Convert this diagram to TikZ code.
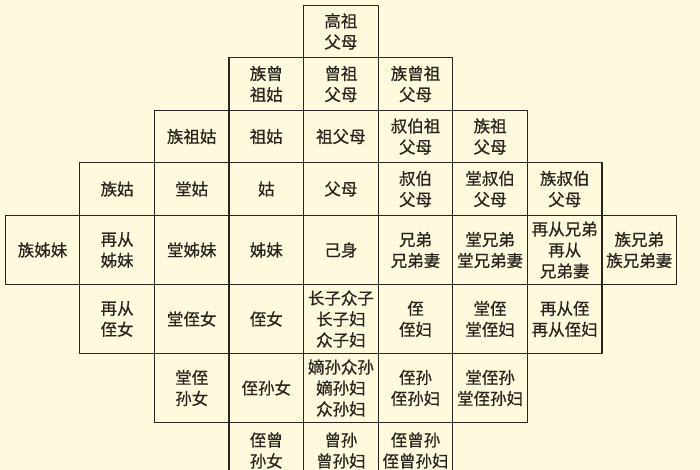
\documentclass[tikz,border=0pt]{standalone}
\usepackage{fontspec}
\newfontfamily\cjk[FakeBold=0.6]{Noto Sans CJK SC}
\definecolor{paper}{RGB}{255,250,221}
\definecolor{ink}{RGB}{40,37,30}
\tikzset{
  cell/.style={draw=ink,line width=1.2pt,minimum width=74.6pt,inner sep=0pt,
    align=center,text=ink,font=\cjk\fontsize{16.5}{21}\selectfont},
  rowlow/.style={cell,minimum height=52.5pt},
  rowhigh/.style={cell,minimum height=69pt}
}
\begin{document}
\begin{tikzpicture}[x=1pt,y=-1pt,line join=round,line cap=round]
			\fill[paper] (0,0) rectangle (700,470);
			\clip (0,0) rectangle (700,470);
			% generation of great-great-grandparents
			\node[rowlow] (A4) at (340.9,31.5) {高祖\\父母};
			% great-grandparents
			\node[rowlow] (B3) at (266.3,84) {族曾\\祖姑};
			\node[rowlow] (B4) at (340.9,84) {曾祖\\父母};
			\node[rowlow] (B5) at (415.5,84) {族曾祖\\父母};
			% grandparents
			\node[rowlow] (C2) at (191.7,136.5) {族祖姑};
			\node[rowlow] (C3) at (266.3,136.5) {祖姑};
			\node[rowlow] (C4) at (340.9,136.5) {祖父母};
			\node[rowlow] (C5) at (415.5,136.5) {叔伯祖\\父母};
			\node[rowlow] (C6) at (490.1,136.5) {族祖\\父母};
			% parents
			\node[rowlow] (D1) at (117.1,189) {族姑};
			\node[rowlow] (D2) at (191.7,189) {堂姑};
			\node[rowlow] (D3) at (266.3,189) {姑};
			\node[rowlow] (D4) at (340.9,189) {父母};
			\node[rowlow] (D5) at (415.5,189) {叔伯\\父母};
			\node[rowlow] (D6) at (490.1,189) {堂叔伯\\父母};
			\node[rowlow] (D7) at (564.7,189) {族叔伯\\父母};
			% own generation
			\node[rowhigh] (E0) at (42.5,250) {族姊妹};
			\node[rowhigh] (E1) at (117.1,250) {再从\\姊妹};
			\node[rowhigh] (E2) at (191.7,250) {堂姊妹};
			\node[rowhigh] (E3) at (266.3,250) {姊妹};
			\node[rowhigh] (E4) at (340.9,250) {己身};
			\node[rowhigh] (E5) at (415.5,250) {兄弟\\兄弟妻};
			\node[rowhigh] (E6) at (490.1,250) {堂兄弟\\堂兄弟妻};
			\node[rowhigh] (E7) at (564.7,250) {再从兄弟\\再从\\兄弟妻};
			\node[rowhigh] (E8) at (639.3,250) {族兄弟\\族兄弟妻};
			% children
			\node[rowhigh] (F1) at (117.1,319) {再从\\侄女};
			\node[rowhigh] (F2) at (191.7,319) {堂侄女};
			\node[rowhigh] (F3) at (266.3,319) {侄女};
			\node[rowhigh] (F4) at (340.9,319) {长子众子\\长子妇\\众子妇};
			\node[rowhigh] (F5) at (415.5,319) {侄\\侄妇};
			\node[rowhigh] (F6) at (490.1,319) {堂侄\\堂侄妇};
			\node[rowhigh] (F7) at (564.7,319) {再从侄\\再从侄妇};
			% grandchildren
			\node[rowhigh] (G2) at (191.7,388) {堂侄\\孙女};
			\node[rowhigh] (G3) at (266.3,388) {侄孙女};
			\node[rowhigh] (G4) at (340.9,388) {嫡孙众孙\\嫡孙妇\\众孙妇};
			\node[rowhigh] (G5) at (415.5,388) {侄孙\\侄孙妇};
			\node[rowhigh] (G6) at (490.1,388) {堂侄孙\\堂侄孙妇};
			% great-grandchildren
			\node[cell,minimum height=56pt] (H3) at (266.3,450.5) {侄曾\\孙女};
			\node[cell,minimum height=56pt] (H4) at (340.9,450.5) {曾孙\\曾孙妇};
			\node[cell,minimum height=56pt] (H5) at (415.5,450.5) {侄曾孙\\侄曾孙妇};
		\end{tikzpicture}
\end{document}
